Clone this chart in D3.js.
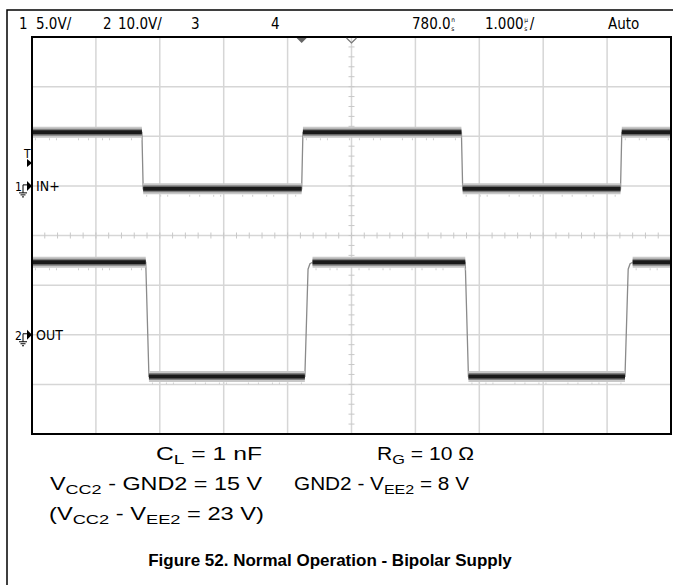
<!DOCTYPE html>
<html>
<head>
<meta charset="utf-8">
<script src="https://cdn.jsdelivr.net/npm/d3@7/dist/d3.min.js"></script>
<style>
  html, body { margin: 0; padding: 0; background: #fff; }
  svg { display: block; }
</style>
</head>
<body>
<svg id="chart" width="673" height="585"></svg>
<script>
// Scope settings shown in the status bar
const headerItems = [
  { text: "1", x: 19 },
  { text: "5.0V/", x: 36 },
  { text: "2", x: 103 },
  { text: "10.0V/", x: 118 },
  { text: "3", x: 191 },
  { text: "4", x: 271 }
];
const delayValue = "780.0";
const timebaseValue = "1.000";
const triggerMode = "Auto";

// Horizontal axis: time relative to trigger (µs), 1 µs/div, 10 divisions
const timeDomain = [-4.22, 5.78];
const triggerTime = 0;
const delayTime = 0.78;

// Channel 1 (IN+), 5 V/div, ground at +1 div
const ch1Scale = 5, ch1Offset = 1;
const ch1T = [-4.22, -2.50, -2.48, 0.00, 0.02, 2.50, 2.52, 4.99, 5.01, 5.78];
const ch1V = [5.4, 5.4, -0.3, -0.3, 5.4, 5.4, -0.3, -0.3, 5.4, 5.4];

// Channel 2 (OUT), 10 V/div, ground at -2 div
const ch2Scale = 10, ch2Offset = -2;
const ch2T = [-4.22, -2.44, -2.39, 0.05, 0.10, 0.13, 0.17, 2.56, 2.61, 5.06, 5.11, 5.14, 5.18, 5.78];
const ch2V = [14.6, 14.6, -8.4, -8.4, 13.2, 14.3, 14.6, 14.6, -8.4, -8.4, 13.2, 14.3, 14.6, 14.6];

const svg = d3.select("#chart");

const plot = { left: 32, right: 671, top: 37, bottom: 434 };
const xDiv = d3.scaleLinear().domain([0, 10]).range([plot.left, plot.right]);
const yDiv = d3.scaleLinear().domain([-4, 4]).range([plot.bottom, plot.top]);
const xTime = d3.scaleLinear().domain(timeDomain).range([plot.left, plot.right]);

// Outer frame (top and left edges)
svg.append("path")
  .attr("d", `M7,585 L7,10 L673,10`)
  .attr("fill", "none").attr("stroke", "#000").attr("stroke-width", 1.5);

// Grid
const grid = svg.append("g").attr("stroke", "#d6d6d6").attr("stroke-width", 1.5);
d3.range(1, 10).forEach(i => {
  grid.append("line").attr("x1", xDiv(i)).attr("x2", xDiv(i)).attr("y1", plot.top).attr("y2", plot.bottom);
});
d3.range(-3, 4).forEach(i => {
  grid.append("line").attr("x1", plot.left).attr("x2", plot.right).attr("y1", yDiv(i)).attr("y2", yDiv(i));
});
// Minor ticks on the centre lines
const ticks = svg.append("g").attr("stroke", "#c8c8c8").attr("stroke-width", 1);
d3.range(0, 10.001, 0.2).forEach(d => {
  ticks.append("line").attr("x1", xDiv(d)).attr("x2", xDiv(d)).attr("y1", yDiv(0) - 3).attr("y2", yDiv(0) + 3);
});
d3.range(-4, 4.001, 0.2).forEach(d => {
  ticks.append("line").attr("x1", xDiv(5) - 3).attr("x2", xDiv(5) + 3).attr("y1", yDiv(d)).attr("y2", yDiv(d));
});

// Traces
function drawTrace(ts, vs, scale, offset) {
  const pts = ts.map((t, i) => [xTime(t), yDiv(vs[i] / scale + offset)]);
  const line = d3.line();
  const g = svg.append("g");
  // flat segments drawn as thick persistence bands, edges as thin lines
  const flats = [];
  for (let i = 0; i < pts.length - 1; i++) {
    const a = pts[i], b = pts[i + 1];
    if (Math.abs(a[1] - b[1]) < 0.5) flats.push([a, b]);
  }
  g.append("path").attr("d", line(pts)).attr("fill", "none")
    .attr("stroke", "#8a8a8a").attr("stroke-width", 1.3);
  flats.forEach(s => {
    g.append("path").attr("d", line(s)).attr("stroke", "#c8c8c8").attr("stroke-width", 11);
    g.append("path").attr("d", line(s)).attr("stroke", "#808080").attr("stroke-width", 7);
    g.append("path").attr("d", line(s)).attr("stroke", "#1a1a1a").attr("stroke-width", 4);
    // sparse noise marks just below the band
    g.append("path").attr("d", line(s.map(p => [p[0] + 3, p[1] + 7])))
      .attr("stroke", "#d0d0d0").attr("stroke-width", 2).attr("stroke-dasharray", "1,13,1,6,1,21,1,9");
  });
}
drawTrace(ch1T, ch1V, ch1Scale, ch1Offset);
drawTrace(ch2T, ch2V, ch2Scale, ch2Offset);

// Plot border
svg.append("rect")
  .attr("x", plot.left).attr("y", plot.top)
  .attr("width", plot.right - plot.left).attr("height", plot.bottom - plot.top)
  .attr("fill", "none").attr("stroke", "#000").attr("stroke-width", 2);

// Trigger position and delay markers on the top edge
const tx = xTime(triggerTime), dx = xTime(delayTime);
svg.append("path").attr("d", `M${tx - 5},${plot.top + 1} L${tx + 5},${plot.top + 1} L${tx},${plot.top + 6} Z`)
  .attr("fill", "#666");
svg.append("path").attr("d", `M${dx - 5},${plot.top + 1} L${dx},${plot.top + 6} L${dx + 5},${plot.top + 1}`)
  .attr("fill", "none").attr("stroke", "#777").attr("stroke-width", 1.2);

// Status bar text
const hdrFont = "'DejaVu Sans Condensed', 'DejaVu Sans', sans-serif";
const hdr = svg.append("g").attr("font-family", hdrFont).attr("font-size", 15).attr("fill", "#000");
headerItems.forEach(h => hdr.append("text").attr("x", h.x).attr("y", 29).text(h.text));
// value followed by a unit written as a small stacked prefix over "s"
function unitText(x, value, top, bottom, suffix) {
  const t = hdr.append("text").attr("x", x).attr("y", 29).text(value);
  const w = t.node().getComputedTextLength();
  hdr.append("text").attr("x", x + w + 0.5).attr("y", 21.5).attr("font-size", 6.5).text(top);
  hdr.append("text").attr("x", x + w + 0.5).attr("y", 30.5).attr("font-size", 6.5).text(bottom);
  if (suffix) hdr.append("text").attr("x", x + w + 6).attr("y", 29).text(suffix);
}
unitText(412, delayValue, "n", "s", "");
unitText(485, timebaseValue, "µ", "s", "/");
hdr.append("text").attr("x", 608).attr("y", 29).text(triggerMode);

// Channel markers on the left edge
function groundMarker(label, name, yPix) {
  const g = svg.append("g");
  g.append("text").attr("x", 15).attr("y", yPix + 5).attr("font-family", hdrFont)
    .attr("font-size", 12).text(label);
  g.append("path").attr("d", `M23,${yPix + 7} L23,${yPix - 1} L28,${yPix - 1}`)
    .attr("fill", "none").attr("stroke", "#000").attr("stroke-width", 1);
  g.append("path").attr("d", `M19,${yPix + 7} L27,${yPix + 7} M20.5,${yPix + 9} L25.5,${yPix + 9} M22,${yPix + 11} L24,${yPix + 11}`)
    .attr("stroke", "#000").attr("stroke-width", 1);
  g.append("path").attr("d", `M27,${yPix - 5} L32,${yPix} L27,${yPix + 5} Z`).attr("fill", "#000");
  g.append("text").attr("x", 36).attr("y", yPix + 5).attr("font-family", hdrFont)
    .attr("font-size", 14).text(name);
}
groundMarker("1", "IN+", yDiv(ch1Offset));
groundMarker("2", "OUT", yDiv(ch2Offset));
// Trigger level marker
const trigY = yDiv(ch1Offset + 2.5 / ch1Scale) + 2;
svg.append("text").attr("x", 24).attr("y", trigY - 5).attr("font-family", hdrFont)
  .attr("font-size", 12).text("T");
svg.append("path").attr("d", `M27,${trigY - 4} L32,${trigY} L27,${trigY + 4} Z`).attr("fill", "#000");

// Test conditions and caption
const cap = svg.append("g").attr("font-family", "'Liberation Sans', Arial, sans-serif").attr("fill", "#000");
function rich(x, y, width, parts) {
  const t = cap.append("text").attr("x", x).attr("y", y).attr("font-size", 17.5)
    .attr("textLength", width).attr("lengthAdjust", "spacingAndGlyphs");
  let down = false;
  parts.forEach(p => {
    const isSub = typeof p === "object";
    const s = t.append("tspan").text(isSub ? p.sub : p);
    if (isSub) { s.attr("font-size", 13.5); if (!down) { s.attr("dy", 4); down = true; } }
    else { if (down) { s.attr("dy", -4); down = false; } }
  });
}
rich(156, 460, 106, ["C", { sub: "L" }, " = 1 nF"]);
rich(377, 460, 97, ["R", { sub: "G" }, " = 10 Ω"]);
rich(50, 490, 212, ["V", { sub: "CC2" }, " - GND2 = 15 V"]);
rich(294, 490, 175, ["GND2 - V", { sub: "EE2" }, " = 8 V"]);
rich(49, 520, 215, ["(V", { sub: "CC2" }, " - V", { sub: "EE2" }, " = 23 V)"]);
cap.append("text").attr("x", 330).attr("y", 566).attr("text-anchor", "middle")
  .attr("font-size", 17).attr("font-weight", "bold")
  .text("Figure 52. Normal Operation - Bipolar Supply");
</script>
</body>
</html>
